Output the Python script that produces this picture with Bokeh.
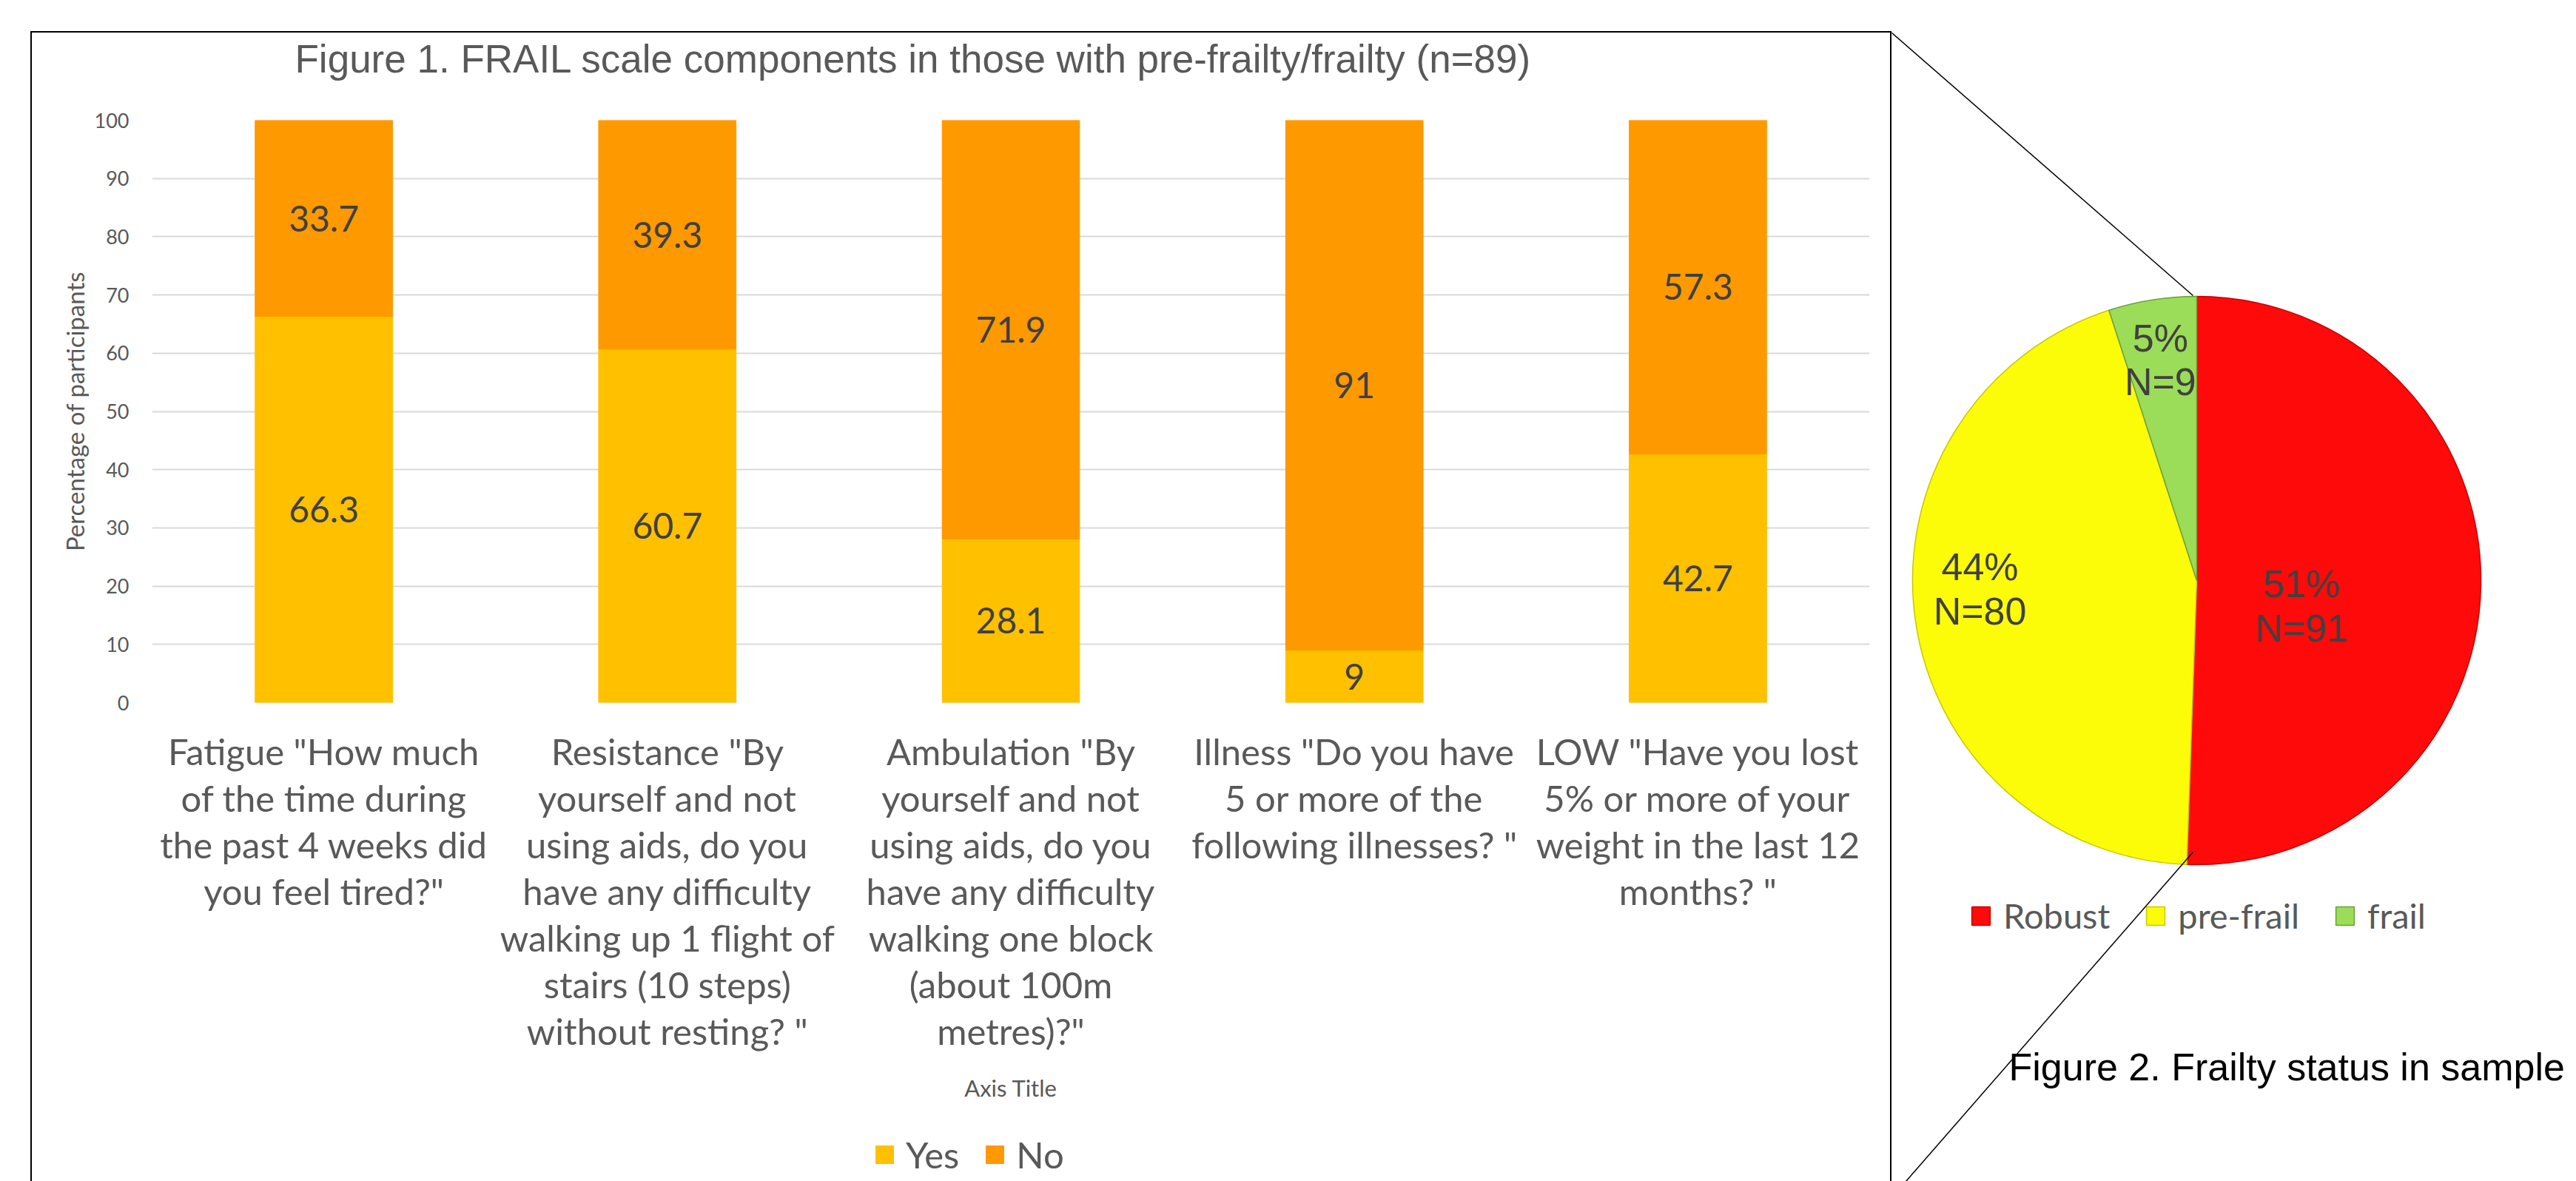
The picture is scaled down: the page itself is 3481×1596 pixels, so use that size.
import numpy as np
from bokeh.plotting import figure
from bokeh.layouts import row, column
from bokeh.models import (ColumnDataSource, Legend, LegendItem, Label, FixedTicker,
                          Range1d, FactorRange, Spacer)
from bokeh.embed import file_html
from bokeh.resources import INLINE
from bokeh.core.properties import value

# ---------------- data ----------------
category_labels = [
    'Fatigue "How much\nof the time during\nthe past 4 weeks did\nyou feel tired?"',
    'Resistance "By\nyourself and not\nusing aids, do you\nhave any difficulty\nwalking up 1 flight of\nstairs (10 steps)\nwithout resting? "',
    'Ambulation "By\nyourself and not\nusing aids, do you\nhave any difficulty\nwalking one block\n(about 100m\nmetres)?"',
    'Illness "Do you have\n5 or more of the\nfollowing illnesses? "',
    'LOW "Have you lost\n5% or more of your\nweight in the last 12\nmonths? "',
]
yes_pct = [66.3, 60.7, 28.1, 9, 42.7]
no_pct = [33.7, 39.3, 71.9, 91, 57.3]
series_names = ["Yes", "No"]
y_ticks = [0, 10, 20, 30, 40, 50, 60, 70, 80, 90, 100]

status = ["Robust", "pre-frail", "frail"]
status_n = [91, 80, 9]
status_pct = ["51%", "44%", "5%"]

title1 = "Figure 1. FRAIL scale components in those with pre-frailty/frailty (n=89)"
title2 = "Figure 2. Frailty status in sample"

# ---------------- geometry / styling ----------------
W, H = 3481, 1596
X0, Y0, LW = 41, 42, 2          # outer box: left line x, top line y, line width
PX0, PY0 = X0 + LW, Y0 + LW      # bar block origin on the page
RIGHT_X = 2554                   # right box line x
BAR_W = RIGHT_X - PX0
TITLE_H = 88                     # title strip height
LEG_TOP = 1520                   # page y where the legend strip starts
P_TOP = PY0 + TITLE_H
BAR_H = LEG_TOP - P_TOP
LEG_H = H - LEG_TOP
PIE_X = RIGHT_X + LW
PIE_W = W - PIE_X
FL, FR, FT, FB = 205 - PX0, 2526 - PX0, 162 - P_TOP, 949 - P_TOP   # frame in bar canvas
GRAY = "#595959"
DARK = "#404040"
CAL = "Lato"
ARIAL = "Liberation Sans"
bar_colors = ["#FFC000", "#FF9900"]


def bare(width, height, **kw):
    f = figure(width=width, height=height, output_backend="svg", toolbar_location=None,
               x_axis_location=None, y_axis_location=None, min_border=0, **kw)
    f.frame_align = False
    f.outline_line_color = None
    f.grid.visible = False
    return f


# ---------------- title strip ----------------
pt = bare(BAR_W, TITLE_H, x_range=Range1d(0, 1), y_range=Range1d(0, 1))
pt.add_layout(Label(x=398 - PX0, y=TITLE_H - (79 - PY0), x_units="screen", y_units="screen",
                    text=title1, text_font=ARIAL, text_font_size="53px",
                    text_color=GRAY, text_baseline="middle"))

# ---------------- bar chart ----------------
xr = FactorRange(factors=category_labels)
p = figure(x_range=xr, y_range=Range1d(0, 100), title=None,
           width=BAR_W, height=BAR_H, output_backend="svg", toolbar_location=None,
           min_border_left=FL, min_border_right=BAR_W - FR,
           min_border_top=FT, min_border_bottom=BAR_H - FB)
p.frame_align = False
p.outline_line_color = None
p.background_fill_color = None
p.border_fill_color = "white"

yes_arr = np.array(yes_pct, dtype=float)
no_arr = np.array(no_pct, dtype=float)
src = ColumnDataSource(dict(
    cat=category_labels, Yes=yes_pct, No=no_pct,
    yes_mid=list(yes_arr / 2), no_mid=list(yes_arr + no_arr / 2),
    yes_txt=[f"{v:g}" for v in yes_pct], no_txt=[f"{v:g}" for v in no_pct]))

rs = p.vbar_stack(series_names, x="cat", width=0.4, color=bar_colors, source=src)

for ycol, tcol in (("yes_mid", "yes_txt"), ("no_mid", "no_txt")):
    p.text(x="cat", y=ycol, text=tcol, source=src, text_font=value(CAL),
           text_font_size="48px", text_color=DARK, text_align="center",
           text_baseline="middle")

p.xgrid.grid_line_color = None
p.ygrid.grid_line_color = "#D9D9D9"
p.ygrid.grid_line_width = 2
p.ygrid.ticker = FixedTicker(ticks=y_ticks)

ya = p.yaxis[0]
ya.ticker = FixedTicker(ticks=y_ticks)
ya.axis_line_color = None
ya.major_tick_line_color = None
ya.minor_tick_line_color = None
ya.major_tick_out = 0
ya.major_tick_in = 0
ya.major_label_text_font = CAL
ya.major_label_text_font_size = "27px"
ya.major_label_text_color = GRAY
ya.major_label_standoff = 31
ya.axis_label = "Percentage of participants"
ya.axis_label_text_font = CAL
ya.axis_label_text_font_size = "33px"
ya.axis_label_text_font_style = "normal"
ya.axis_label_text_color = GRAY
ya.axis_label_standoff = 4

xa = p.xaxis[0]
xa.axis_line_color = None
xa.major_tick_line_color = None
xa.minor_tick_line_color = None
xa.major_tick_out = 0
xa.major_tick_in = 0
xa.major_label_text_font = CAL
xa.major_label_text_font_size = "49px"
xa.major_label_text_color = GRAY
xa.major_label_text_line_height = 1.088
xa.major_label_standoff = 36
xa.axis_label = "Axis Title"
xa.axis_label_text_font = CAL
xa.axis_label_text_font_size = "31px"
xa.axis_label_text_font_style = "normal"
xa.axis_label_text_color = GRAY
xa.axis_label_standoff = 26

# ---------------- legend strip of the bar chart (inside the box) ----------------
pl = bare(BAR_W, LEG_H, x_range=xr, y_range=Range1d(0, 100))
rs_leg = pl.vbar_stack(series_names, x="cat", width=0.4, color=bar_colors, source=src)
for r in rs_leg:
    r.visible = False            # only the legend entries are wanted here
leg = Legend(items=[LegendItem(label=n, renderers=[r]) for n, r in zip(series_names, rs_leg)],
             orientation="horizontal", location=(1180 - PX0, LEG_H - (1530 - LEG_TOP) - 59),
             padding=0, margin=0, spacing=33, label_standoff=14,
             glyph_width=30, glyph_height=30, label_height=30,
             label_text_font=CAL, label_text_font_size="49px", label_text_color=GRAY,
             border_line_color=None, background_fill_alpha=0, inactive_fill_alpha=0)
pl.add_layout(leg)

# ---------------- outer box lines (layout elements) ----------------
def box_line(w, h):
    return Spacer(width=w, height=h, margin=0, styles={"background-color": "black"})

top_line = box_line(LW + BAR_W + LW, LW)
left_line = box_line(LW, H - PY0)
right_line = box_line(LW, H - PY0)

# ---------------- pie chart ----------------
R_PX = 384.0
CX, CY = 2968 - PIE_X, 784
p2 = bare(PIE_W, H, x_range=Range1d(-CX / R_PX, (PIE_W - CX) / R_PX),
          y_range=Range1d(-(H - CY) / R_PX, CY / R_PX))

n = np.array(status_n, dtype=float)
cum = np.concatenate([[0.0], np.cumsum(n / n.sum())])
start = np.pi / 2 - 2 * np.pi * cum[:-1]
end = np.pi / 2 - 2 * np.pi * cum[1:]
src2 = ColumnDataSource(dict(status=status, start=start, end=end,
                             fill=["#FE0A0A", "#FCFC08", "#9BDC58"],
                             edge=["#C80000", "#C8C800", "#6E9E3A"]))
w = p2.wedge(x=0, y=0, radius=1, start_angle="start", end_angle="end",
             direction="clock", fill_color="fill", line_color="edge",
             line_width=1.5, source=src2)

lab_x = [0.37, -0.763, -0.128]
lab_y = [-0.089, -0.031, 0.776]
p2.text(x=lab_x, y=lab_y, text=[f"{a}\nN={b}" for a, b in zip(status_pct, status_n)],
        text_font=value(ARIAL), text_font_size="52px", text_color=DARK,
        text_align="center", text_baseline="middle", text_line_height=1.033)

def to_pie(px, py):
    return ((px - 2968) / R_PX, (CY - py) / R_PX)

a0, a1 = to_pie(2555, 43), to_pie(2963, 399)
b0, b1 = to_pie(2963, 1151), to_pie(2575, 1596)
p2.segment(x0=[a0[0], b0[0]], y0=[a0[1], b0[1]], x1=[a1[0], b1[0]], y1=[a1[1], b1[1]],
           line_color="black", line_width=1.5)

leg2 = Legend(items=[LegendItem(label=s, renderers=[w], index=i) for i, s in enumerate(status)],
              orientation="horizontal", location=(2661 - PIE_X, H - 1265),
              padding=0, margin=0, spacing=46, label_standoff=15,
              glyph_width=31, glyph_height=31, label_height=31,
              label_text_font=CAL, label_text_font_size="47px", label_text_color=GRAY,
              border_line_color=None, background_fill_alpha=0)
p2.add_layout(leg2)

p2.add_layout(Label(x=2714 - PIE_X, y=H - 1441, x_units="screen", y_units="screen",
                    text=title2, text_font=ARIAL, text_font_size="52px",
                    text_color="black", text_baseline="middle"))

bar_block = column(top_line,
                   row(left_line, column(pt, p, pl, spacing=0), right_line, spacing=0),
                   spacing=0)
layout = row(Spacer(width=X0, height=H, margin=0),
             column(Spacer(width=10, height=Y0, margin=0), bar_block, spacing=0),
             p2, spacing=0)
open("out.html", "w").write(file_html(layout, INLINE))
